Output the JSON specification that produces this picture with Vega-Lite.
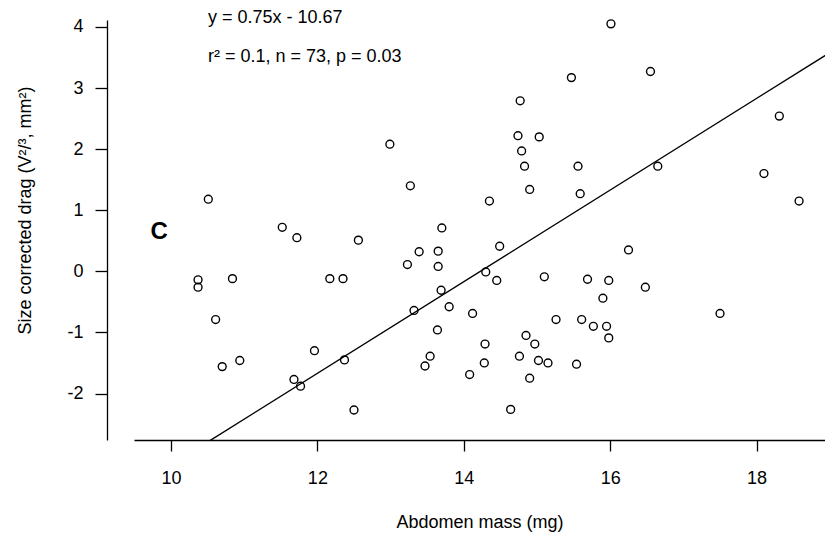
{
  "$schema": "https://vega.github.io/schema/vega-lite/v6.json",
  "autosize": "none",
  "width": 691,
  "height": 420,
  "padding": {"left": 134, "top": 20, "right": 0, "bottom": 96},
  "background": "white",
  "config": {
    "view": {"stroke": null},
    "font": "Liberation Sans",
    "axis": {
      "grid": false,
      "domainColor": "black",
      "domainWidth": 1.3,
      "tickColor": "black",
      "tickWidth": 1.3,
      "labelColor": "black",
      "titleColor": "black",
      "labelFont": "Liberation Sans",
      "titleFont": "Liberation Sans",
      "labelFontSize": 18,
      "titleFontSize": 18,
      "titleFontWeight": "normal"
    }
  },
  "datasets": {
    "points": [
      {"mass": 16.01, "drag": 4.05},
      {"mass": 16.55, "drag": 3.27},
      {"mass": 15.47, "drag": 3.17},
      {"mass": 14.77, "drag": 2.79},
      {"mass": 14.74, "drag": 2.22},
      {"mass": 15.03, "drag": 2.20},
      {"mass": 14.79, "drag": 1.97},
      {"mass": 14.83, "drag": 1.72},
      {"mass": 15.56, "drag": 1.72},
      {"mass": 18.31, "drag": 2.54},
      {"mass": 14.90, "drag": 1.34},
      {"mass": 15.59, "drag": 1.27},
      {"mass": 16.65, "drag": 1.72},
      {"mass": 18.10, "drag": 1.60},
      {"mass": 14.35, "drag": 1.15},
      {"mass": 18.58, "drag": 1.15},
      {"mass": 13.70, "drag": 0.71},
      {"mass": 14.49, "drag": 0.41},
      {"mass": 12.99, "drag": 2.08},
      {"mass": 13.27, "drag": 1.40},
      {"mass": 10.51, "drag": 1.18},
      {"mass": 11.52, "drag": 0.72},
      {"mass": 11.72, "drag": 0.55},
      {"mass": 12.56, "drag": 0.51},
      {"mass": 13.39, "drag": 0.32},
      {"mass": 13.65, "drag": 0.33},
      {"mass": 13.23, "drag": 0.11},
      {"mass": 13.65, "drag": 0.08},
      {"mass": 10.37, "drag": -0.14},
      {"mass": 10.37, "drag": -0.26},
      {"mass": 10.84, "drag": -0.12},
      {"mass": 12.17, "drag": -0.12},
      {"mass": 12.35, "drag": -0.12},
      {"mass": 13.69, "drag": -0.31},
      {"mass": 13.80, "drag": -0.58},
      {"mass": 13.32, "drag": -0.64},
      {"mass": 10.61, "drag": -0.79},
      {"mass": 13.64, "drag": -0.96},
      {"mass": 11.96, "drag": -1.30},
      {"mass": 12.37, "drag": -1.45},
      {"mass": 13.54, "drag": -1.39},
      {"mass": 13.47, "drag": -1.55},
      {"mass": 10.70, "drag": -1.56},
      {"mass": 10.94, "drag": -1.46},
      {"mass": 11.68, "drag": -1.77},
      {"mass": 11.77, "drag": -1.88},
      {"mass": 12.50, "drag": -2.27},
      {"mass": 16.25, "drag": 0.35},
      {"mass": 14.30, "drag": -0.01},
      {"mass": 14.45, "drag": -0.15},
      {"mass": 15.10, "drag": -0.09},
      {"mass": 15.69, "drag": -0.13},
      {"mass": 15.98, "drag": -0.15},
      {"mass": 16.48, "drag": -0.26},
      {"mass": 15.90, "drag": -0.44},
      {"mass": 14.12, "drag": -0.69},
      {"mass": 17.50, "drag": -0.69},
      {"mass": 15.26, "drag": -0.79},
      {"mass": 15.61, "drag": -0.79},
      {"mass": 15.77, "drag": -0.90},
      {"mass": 15.95, "drag": -0.90},
      {"mass": 15.98, "drag": -1.09},
      {"mass": 14.85, "drag": -1.05},
      {"mass": 14.97, "drag": -1.19},
      {"mass": 14.29, "drag": -1.19},
      {"mass": 14.76, "drag": -1.39},
      {"mass": 14.28, "drag": -1.50},
      {"mass": 15.02, "drag": -1.46},
      {"mass": 15.15, "drag": -1.50},
      {"mass": 15.54, "drag": -1.52},
      {"mass": 14.08, "drag": -1.69},
      {"mass": 14.90, "drag": -1.75},
      {"mass": 14.64, "drag": -2.26}
    ],
    "fit": [
      {"mass": 10.5, "drag": -2.795},
      {"mass": 18.95, "drag": 3.5425}
    ],
    "one": [{}]
  },
  "layer": [
    {
      "data": {"name": "points"},
      "mark": {"type": "point", "shape": "circle", "filled": false, "stroke": "black", "strokeWidth": 1.4, "size": 62, "opacity": 1},
      "encoding": {
        "x": {
          "field": "mass", "type": "quantitative",
          "scale": {"domain": [9.495, 18.934], "nice": false, "zero": false},
          "axis": {
            "title": "Abdomen mass (mg)",
            "values": [10, 12, 14, 16, 18],
            "tickSize": 11,
            "labelPadding": 18,
            "titlePadding": 26,
            "labelExpr": "'' + datum.value"
          }
        },
        "y": {
          "field": "drag", "type": "quantitative",
          "scale": {"domain": [-2.761, 4.113], "nice": false, "zero": false},
          "axis": {
            "title": "Size corrected drag (V²/³, mm²)",
            "titleFontSize": 18,
            "titleY": 190,
            "values": [-2, -1, 0, 1, 2, 3, 4],
            "offset": 27,
            "tickSize": 12,
            "labelPadding": 12,
            "titlePadding": 32,
            "labelExpr": "'' + datum.value"
          }
        }
      }
    },
    {
      "data": {"name": "fit"},
      "mark": {"type": "line", "color": "black", "strokeWidth": 1.4, "clip": true},
      "encoding": {
        "x": {"field": "mass", "type": "quantitative"},
        "y": {"field": "drag", "type": "quantitative"}
      }
    },
    {
      "data": {"name": "one"},
      "mark": {"type": "text", "text": "y = 0.75x - 10.67", "align": "left", "baseline": "middle", "fontSize": 18, "font": "Liberation Sans", "color": "black"},
      "encoding": {
        "x": {"datum": 10.505, "type": "quantitative"},
        "y": {"datum": 4.14, "type": "quantitative"}
      }
    },
    {
      "data": {"name": "one"},
      "mark": {"type": "text", "text": "r² = 0.1, n = 73, p = 0.03", "align": "left", "baseline": "middle", "fontSize": 18, "font": "Liberation Sans", "color": "black"},
      "encoding": {
        "x": {"datum": 10.505, "type": "quantitative"},
        "y": {"datum": 3.51, "type": "quantitative"}
      }
    },
    {
      "data": {"name": "one"},
      "mark": {"type": "text", "text": "C", "align": "center", "baseline": "middle", "fontSize": 24, "fontWeight": "bold", "font": "Liberation Sans", "color": "black"},
      "encoding": {
        "x": {"datum": 9.84, "type": "quantitative"},
        "y": {"datum": 0.64, "type": "quantitative"}
      }
    }
  ]
}
